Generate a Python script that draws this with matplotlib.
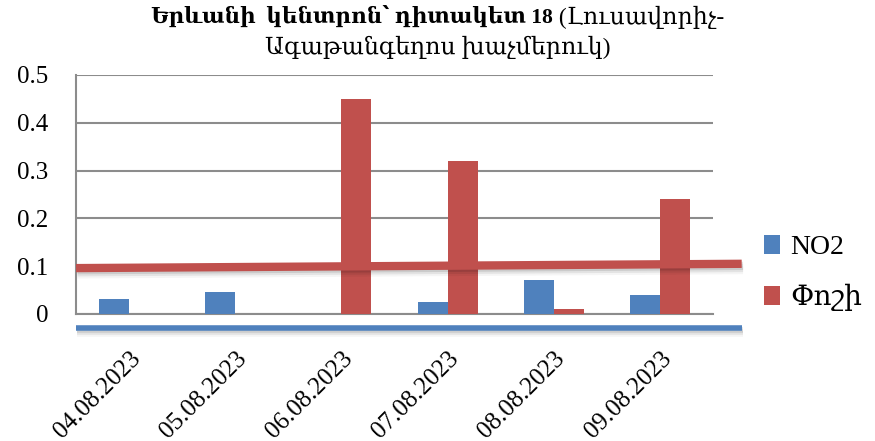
import matplotlib
matplotlib.use('Agg')
import matplotlib.pyplot as plt
import matplotlib.patheffects as pe
import numpy as np

plt.rcParams['font.family'] = ['Liberation Serif', 'DejaVu Serif']

dates = ['04.08.2023', '05.08.2023', '06.08.2023', '07.08.2023', '08.08.2023', '09.08.2023']
no2 = [0.031, 0.046, 0, 0.025, 0.071, 0.040]
dust = [0, 0, 0.45, 0.32, 0.01, 0.24]
yticks = [0, 0.1, 0.2, 0.3, 0.4, 0.5]
ytick_labels = ['0', '0.1', '0.2', '0.3', '0.4', '0.5']

# drawn lines on the chart (red: near-limit line, blue: under the axis)
red_line_x = [-0.5, 5.77]
red_line_y = [0.096, 0.105]
blue_line_x = [-0.5, 5.77]
blue_line_y = [-0.029, -0.029]

blue = '#4F81BD'
red = '#C0504D'
grid_c = '#8c8c8c'

fig = plt.figure(figsize=(8.75, 4.41), dpi=100)
ax = fig.add_axes([0.0869, 0.288, 0.728, 0.542])

x = np.arange(len(dates))
w = 0.283
ax.bar(x - w / 2, no2, w, color=blue, label='NO2', zorder=3)
ax.bar(x + w / 2, dust, w, color=red, label='Փոշի', zorder=3)

shadow = [pe.SimpleLineShadow(offset=(1, -1.5), shadow_color='black', alpha=0.10),
          pe.SimpleLineShadow(offset=(1, -3), shadow_color='black', alpha=0.07),
          pe.SimpleLineShadow(offset=(1, -4.5), shadow_color='black', alpha=0.04),
          pe.Normal()]
ax.plot(red_line_x, red_line_y, color=red, lw=6, solid_capstyle='butt',
        clip_on=False, zorder=4, path_effects=shadow)
ax.plot(blue_line_x, blue_line_y, color=blue, lw=4, solid_capstyle='butt',
        clip_on=False, zorder=4, path_effects=shadow)

ax.set_xlim(-0.5, 5.5)
ax.set_ylim(0, 0.5)
ax.set_yticks(yticks)
ax.set_yticklabels(ytick_labels, fontsize=18)
ax.set_xticks(x)
ax.set_xticklabels(dates, rotation=45, ha='right', rotation_mode='anchor', fontsize=18)
ax.tick_params(length=0)
ax.tick_params(axis='y', pad=20)
ax.tick_params(axis='x', pad=24)
for s in ['top', 'right']:
    ax.spines[s].set_visible(False)
ax.spines['left'].set_color(grid_c)
ax.spines['bottom'].set_color(grid_c)
ax.spines['left'].set_linewidth(1.5)
ax.spines['bottom'].set_linewidth(1.5)
ax.yaxis.grid(True, color=grid_c, lw=1.5, zorder=0)
ax.set_axisbelow(True)

leg = ax.legend(loc='center left', bbox_to_anchor=(1.04, 0.17), frameon=False,
                fontsize=20, handlelength=0.6, handleheight=0.65, handletextpad=0.35,
                labelspacing=0.85)

# title with mixed bold / regular parts
bold_part = 'Երևանի  կենտրոն՝ դիտակետ 18'
reg_part = ' (Լուսավորիչ-'
line2 = 'Ագաթանգեղոս խաչմերուկ)'
y1 = 1 - 17 / 441
y2 = 1 - 47 / 441
t1 = fig.text(0, y1, bold_part, fontsize=15.5, fontweight='bold', va='center', ha='left')
t2 = fig.text(0, y1, reg_part, fontsize=17, va='center', ha='left')
fig.text(0.5, y2, line2, fontsize=17, va='center', ha='center')
r = fig.canvas.get_renderer()
w1 = t1.get_window_extent(r).width
w2 = t2.get_window_extent(r).width
fw = fig.get_figwidth() * fig.dpi
x0 = 0.5 * fw - (w1 + w2) / 2
t1.set_x(x0 / fw)
t2.set_x((x0 + w1) / fw)

fig.savefig('out.png', dpi=100)
